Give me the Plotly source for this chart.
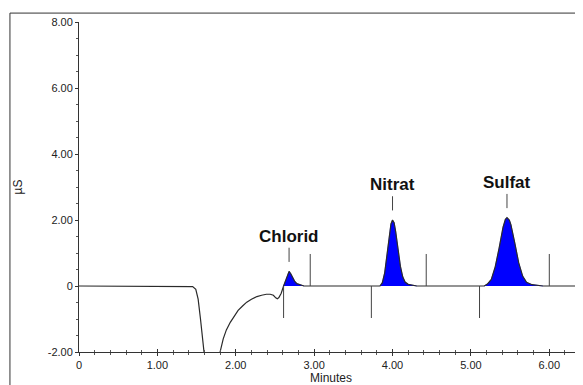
import plotly.graph_objects as go

# ---------------- data ----------------
# baseline / system part before the first peak (minutes, µS)
pre_t = [0.00, 1.40, 1.45, 1.49, 1.52, 1.55, 1.58, 1.61, 1.64, 1.77, 1.80, 1.84, 1.88, 1.93,
         1.98, 2.03, 2.09, 2.14, 2.20, 2.27, 2.33, 2.39, 2.44, 2.48, 2.51, 2.53, 2.55, 2.58, 2.61]
pre_y = [0.00, 0.00, -0.02, -0.10, -0.40, -1.00, -1.60, -2.20, -3.00, -3.00, -2.00, -1.60, -1.33, -1.10,
         -0.90, -0.74, -0.60, -0.49, -0.40, -0.32, -0.28, -0.25, -0.25, -0.28, -0.36, -0.39, -0.35, -0.22, 0.00]

chlorid_t = [2.61, 2.63, 2.65, 2.67, 2.68, 2.70, 2.72, 2.75, 2.78, 2.82, 2.87]
chlorid_y = [0.00, 0.12, 0.30, 0.42, 0.44, 0.38, 0.27, 0.15, 0.07, 0.03, 0.00]

nitrat_t = [3.84, 3.87, 3.90, 3.92, 3.94, 3.96, 3.98, 4.00, 4.02, 4.04, 4.06, 4.08, 4.10, 4.13, 4.16, 4.20, 4.25, 4.31]
nitrat_y = [0.00, 0.10, 0.40, 0.75, 1.15, 1.55, 1.88, 2.00, 1.92, 1.65, 1.30, 0.92, 0.60, 0.28, 0.12, 0.05, 0.02, 0.00]

sulfat_t = [5.17, 5.21, 5.26, 5.31, 5.36, 5.41, 5.44, 5.46, 5.49, 5.51, 5.56, 5.61, 5.66, 5.71, 5.78, 5.85, 5.92]
sulfat_y = [0.00, 0.06, 0.20, 0.58, 1.15, 1.78, 2.02, 2.07, 2.00, 1.86, 1.30, 0.70, 0.30, 0.11, 0.04, 0.01, 0.00]

post_t = [6.43]
post_y = [0.00]

peak_names = ["Chlorid", "Nitrat", "Sulfat"]
peak_times = [2.68, 4.00, 5.46]
peak_heights = [0.44, 2.00, 2.07]
peak_starts = [2.61, 3.73, 5.11]
peak_ends = [2.95, 4.43, 6.00]

x_tickvals = [0, 1, 2, 3, 4, 5, 6]
x_ticktext = ["0", "1.00", "2.00", "3.00", "4.00", "5.00", "6.00"]
y_tickvals = [-2, 0, 2, 4, 6, 8]
y_ticktext = ["-2.00", "0", "2.00", "4.00", "6.00", "8.00"]

# ---------------- figure ----------------
FONT = "Arial, Liberation Sans, sans-serif"
full_t = pre_t + chlorid_t[1:] + nitrat_t + sulfat_t + post_t
full_y = pre_y + chlorid_y[1:] + nitrat_y + sulfat_y + post_y

fig = go.Figure()
for pt, py in [(chlorid_t, chlorid_y), (nitrat_t, nitrat_y), (sulfat_t, sulfat_y)]:
    fig.add_trace(go.Scatter(x=pt, y=py, mode="lines", fill="tozeroy",
                             fillcolor="#0000ff", line=dict(color="#0000ff", width=0.5),
                             hoverinfo="skip", showlegend=False))
fig.add_trace(go.Scatter(x=full_t, y=full_y, mode="lines",
                         line=dict(color="#2a2a2a", width=1.2), showlegend=False))
# invisible helper trace on an overlay axis to draw the inward half of the x ticks
fig.add_trace(go.Scatter(x=[0], y=[0], xaxis="x2", mode="markers", marker=dict(opacity=0),
                         hoverinfo="skip", showlegend=False))

shapes = []
for s, e in zip(peak_starts, peak_ends):
    shapes.append(dict(type="line", xref="x", yref="y", x0=s, x1=s, y0=0, y1=-0.97,
                       line=dict(color="#444", width=1)))
    shapes.append(dict(type="line", xref="x", yref="y", x0=e, x1=e, y0=0, y1=0.97,
                       line=dict(color="#444", width=1)))
for t, h in zip(peak_times, peak_heights):
    shapes.append(dict(type="line", xref="x", yref="y", x0=t, x1=t, y0=h + 0.29, y1=h + 0.72,
                       line=dict(color="#444", width=1)))
# outer frame (top and left border)
shapes.append(dict(type="line", xref="paper", yref="paper", x0=-0.137, x1=1.05, y0=1.027, y1=1.027,
                   line=dict(color="#333", width=1)))
shapes.append(dict(type="line", xref="paper", yref="paper", x0=-0.137, x1=-0.137, y0=1.027, y1=-0.2,
                   line=dict(color="#333", width=1)))

annotations = []
for n, t, h in zip(peak_names, peak_times, peak_heights):
    annotations.append(dict(x=t, y=h + 0.72, xref="x", yref="y", text="<b>%s</b>" % n,
                            showarrow=False, yanchor="bottom", yshift=0,
                            font=dict(family=FONT, size=17, color="#111")))

axis_common = dict(showgrid=False, zeroline=False, showline=True, linecolor="#333", linewidth=1,
                   tickcolor="#333")

fig.update_layout(
    width=583, height=385,
    margin=dict(l=71, r=8, t=14, b=41),
    paper_bgcolor="white", plot_bgcolor="white",
    shapes=shapes, annotations=annotations,
    font=dict(family=FONT, size=11, color="#222"),
    xaxis=dict(range=[0, 6.43], tickvals=x_tickvals, ticktext=x_ticktext,
               ticks="outside", ticklen=3,
               minor=dict(dtick=0.2, ticks="outside", ticklen=2, tickcolor="#555"),
               tickfont=dict(size=11, color="#222"),
               title=dict(text="Minutes", standoff=3, font=dict(size=12, color="#222")),
               **axis_common),
    xaxis2=dict(range=[0, 6.43], overlaying="x", anchor="y", side="bottom",
                tickvals=x_tickvals, showticklabels=False, ticks="inside", ticklen=3,
                minor=dict(dtick=0.2, ticks="inside", ticklen=2, tickcolor="#555"),
                **axis_common),
    yaxis=dict(range=[-2, 8], tickvals=y_tickvals, ticktext=y_ticktext,
               ticks="outside", ticklen=3,
               minor=dict(dtick=0.5, ticks="outside", ticklen=2, tickcolor="#555"),
               tickfont=dict(size=11, color="#222"),
               title=dict(text="µS", standoff=22, font=dict(size=12, color="#222")),
               **axis_common),
)

fig.write_html("out.html")
